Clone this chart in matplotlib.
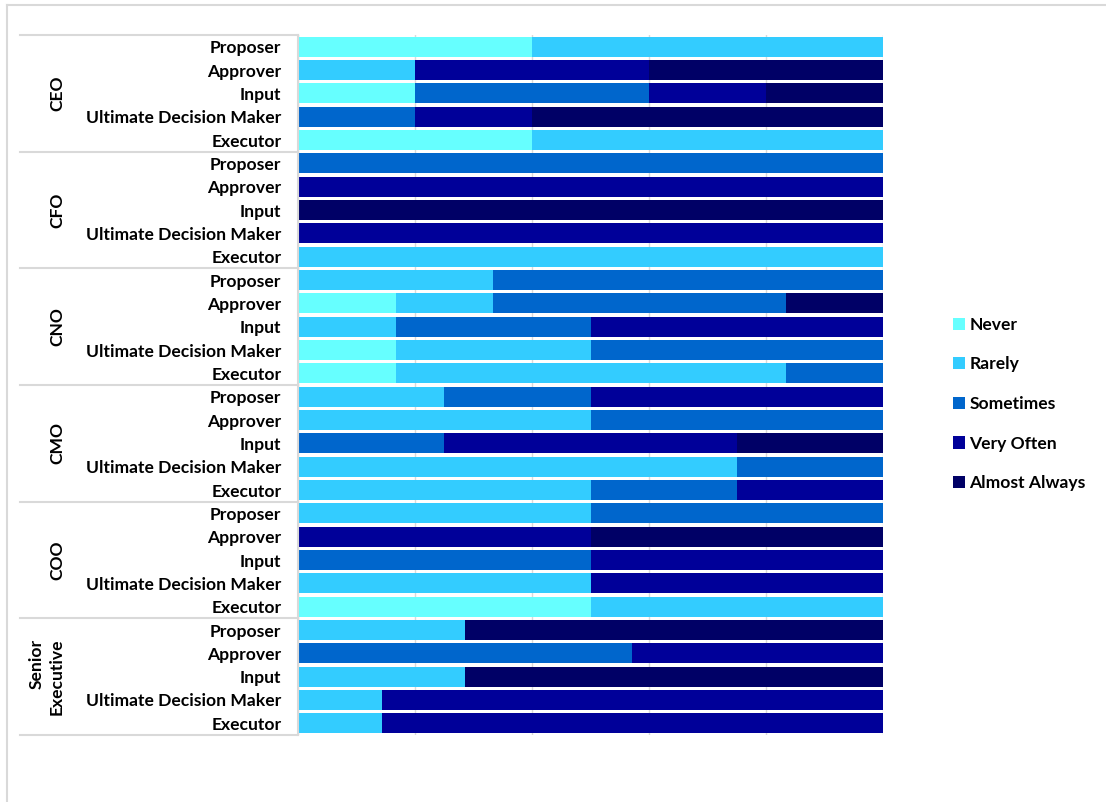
import matplotlib.pyplot as plt
from matplotlib.lines import Line2D
from matplotlib.patches import Patch
import matplotlib.transforms as mtransforms
import numpy as np

plt.rcParams['font.family'] = ['Lato', 'DejaVu Sans']

groups = ["CEO", "CFO", "CNO", "CMO", "COO", "Senior\nExecutive"]
roles = ["Proposer", "Approver", "Input", "Ultimate Decision Maker", "Executor"]
levels = ["Never", "Rarely", "Sometimes", "Very Often", "Almost Always"]
colors = ["#66FFFF", "#33CCFF", "#0066CC", "#000099", "#000066"]

# percent of answers per level, rows in group/role order
never = [40, 0, 20, 0, 40,
         0, 0, 0, 0, 0,
         0, 16.7, 0, 16.7, 16.7,
         0, 0, 0, 0, 0,
         0, 0, 0, 0, 50,
         0, 0, 0, 0, 0]
rarely = [60, 20, 0, 0, 60,
          0, 0, 0, 0, 100,
          33.3, 16.7, 16.7, 33.3, 66.7,
          25, 50, 0, 75, 50,
          50, 0, 0, 50, 50,
          28.6, 0, 28.6, 14.3, 14.3]
sometimes = [0, 0, 40, 20, 0,
             100, 0, 0, 0, 0,
             66.7, 50, 33.3, 50, 16.7,
             25, 50, 25, 25, 25,
             50, 0, 50, 0, 0,
             0, 57.1, 0, 0, 0]
very_often = [0, 40, 20, 20, 0,
              0, 100, 0, 100, 0,
              0, 0, 50, 0, 0,
              50, 0, 50, 0, 25,
              0, 50, 50, 50, 0,
              0, 42.9, 0, 85.7, 85.7]
almost_always = [0, 40, 20, 60, 0,
                 0, 0, 100, 0, 0,
                 0, 16.7, 0, 0, 0,
                 0, 0, 25, 0, 0,
                 0, 50, 0, 0, 0,
                 71.4, 0, 71.4, 0, 0]

series = [never, rarely, sometimes, very_often, almost_always]
n = len(groups) * len(roles)
y = np.arange(n)

W, H = 1106, 802
fig = plt.figure(figsize=(W / 100, H / 100), dpi=100)
ax = fig.add_axes([298 / W, 1 - 735 / H, 585 / W, 700 / H])

left = np.zeros(n)
for vals, c, lab in zip(series, colors, levels):
    vals = np.array(vals)
    ax.barh(y, vals, left=left, height=0.86, color=c, label=lab, zorder=2)
    left += vals

ax.set_xlim(0, 100)
ax.set_ylim(n - 0.5, -0.5)
ax.set_xticks([0, 20, 40, 60, 80, 100])
ax.set_xticklabels([])
ax.tick_params(axis='x', length=0)
ax.grid(axis='x', color='#d9d9d9', linewidth=1, zorder=0)
for s in ['top', 'right', 'bottom']:
    ax.spines[s].set_visible(False)
ax.spines['left'].set_color('#d9d9d9')
ax.spines['left'].set_linewidth(1.5)

ax.set_yticks(y)
ax.set_yticklabels(roles * len(groups), fontsize=12.6, fontweight='bold')
ax.tick_params(axis='y', length=0, pad=12)

# group labels and separator lines
trans = mtransforms.blended_transform_factory(fig.transFigure, ax.transData)
for i, g in enumerate(groups):
    ax.text(65 / W, i * 5 + 2, g, transform=trans, rotation=90, ha='right', va='center',
            fontsize=12.6, fontweight='bold', linespacing=1.3)
for k in range(len(groups) + 1):
    yy = k * 5 - 0.5
    ax.add_line(Line2D([20 / W, 298 / W], [yy, yy], transform=trans, color='#d9d9d9',
                       linewidth=1.5, clip_on=False))

# outer chart border (top and left)
fig.add_artist(Line2D([7 / W, 1], [1 - 5 / H, 1 - 5 / H], transform=fig.transFigure,
                      color='#d9d9d9', linewidth=1.5))
fig.add_artist(Line2D([7 / W, 7 / W], [0, 1 - 5 / H], transform=fig.transFigure,
                      color='#d9d9d9', linewidth=1.5))

handles = [Patch(facecolor=c, label=l) for c, l in zip(colors, levels)]
leg = fig.legend(handles=handles, loc='center left', bbox_to_anchor=(937 / W, 1 - 404 / H),
                 frameon=False, handlelength=0.7, handleheight=0.7, handletextpad=0.25,
                 labelspacing=1.35, prop={'weight': 'bold', 'size': 12.6})

fig.savefig("out.png", dpi=100)
